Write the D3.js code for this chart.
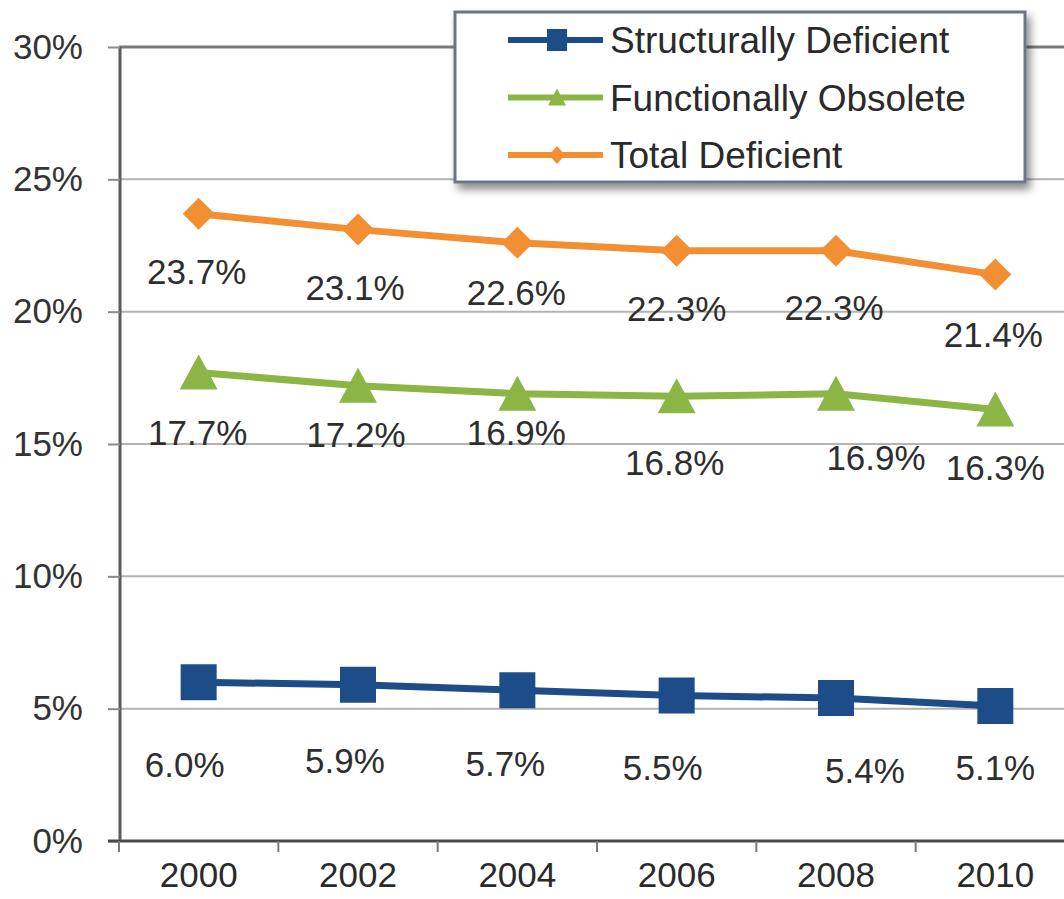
<!DOCTYPE html>
<html><head><meta charset="utf-8">
<script src="https://cdn.jsdelivr.net/npm/d3@7"></script>
<style>
html,body{margin:0;padding:0;background:#fff;overflow:hidden;}
svg{display:block;font-family:"Liberation Sans",Arial,sans-serif;}
</style>
</head><body>
<svg id="chart" width="1064" height="899"></svg>
<script>
// ---------- data ----------
const years = ["2000", "2002", "2004", "2006", "2008", "2010"];
const structurallyDeficient = [6.0, 5.9, 5.7, 5.5, 5.4, 5.1];
const functionallyObsolete = [17.7, 17.2, 16.9, 16.8, 16.9, 16.3];
const totalDeficient = [23.7, 23.1, 22.6, 22.3, 22.3, 21.4];
const yTickValues = [0, 5, 10, 15, 20, 25, 30];
const seriesNames = ["Structurally Deficient", "Functionally Obsolete", "Total Deficient"];

// ---------- layout (pixel offsets of the value labels from their points) ----------
const labelDx = [
  [-14, -13, -12, -14, 29, 0],
  [-1, -2, -1, -2, 40, 0],
  [-2, -3, -1, 0, -2, -2]
];
const labelDy = [
  [82, 76, 73, 72, 72, 61],
  [60, 49, 39, 66, 64, 58],
  [58, 58, 50, 58, 57, 60]
];
const colors = ["#1c4d89", "#8bb545", "#f28f33"];
const markerPaths = [
  "M-18,-18H18V18H-18Z",
  "M0,-18L19,17H-19Z",
  "M0,-16L16,0L0,16L-16,0Z"
];
const legendMarkerPaths = [
  "M-10,-11H10V11H-10Z",
  "M0,-9L9,8H-9Z",
  "M0,-9L8,0L0,9L-8,0Z"
];

const series = seriesNames.map((name, i) => ({
  name,
  values: [structurallyDeficient, functionallyObsolete, totalDeficient][i],
  color: colors[i],
  marker: markerPaths[i],
  legendMarker: legendMarkerPaths[i],
  dx: labelDx[i],
  dy: labelDy[i]
}));

const svg = d3.select("#chart");
const x = d3.scaleBand().domain(years).range([119, 1075]).padding(0);
const y = d3.scaleLinear().domain([0, 30]).range([841, 47]);
const cx = d => x(d) + x.bandwidth() / 2;

const defs = svg.append("defs");
const f = defs.append("filter").attr("id", "shadow").attr("x", "-10%").attr("y", "-10%").attr("width", "125%").attr("height", "140%");
f.append("feDropShadow").attr("dx", 4).attr("dy", 6).attr("stdDeviation", 4)
  .attr("flood-color", "#000").attr("flood-opacity", 0.45);

// gridlines
svg.append("g").selectAll("line").data(yTickValues.filter(v => v > 0)).join("line")
  .attr("x1", 119).attr("x2", 1064)
  .attr("y1", d => y(d)).attr("y2", d => y(d))
  .attr("stroke", d => d === 30 ? "#7a7a7a" : "#b3b3b3")
  .attr("stroke-width", d => d === 30 ? 3 : 2);

// y axis
const yAxis = svg.append("g").attr("transform", "translate(120,0)")
  .call(d3.axisLeft(y).tickValues(yTickValues).tickFormat(d => d + "%").tickSize(12).tickPadding(25));
yAxis.select(".domain").attr("stroke", "#5a5a5a").attr("stroke-width", 3).attr("d", `M0,${y(30)}V${y(0)}`);
yAxis.selectAll(".tick line").attr("stroke", "#8a8a8a").attr("stroke-width", 2);
yAxis.selectAll(".tick text").attr("font-size", 35).attr("fill", "#333")
  .attr("font-family", "'Liberation Sans',Arial,sans-serif");

// x axis
const xAxis = svg.append("g").attr("transform", `translate(0,${y(0)})`)
  .call(d3.axisBottom(x).tickSize(0).tickPadding(21));
xAxis.select(".domain").attr("stroke", "#4a4a4a").attr("stroke-width", 3).attr("d", "M108,0H1064");
xAxis.selectAll(".tick text").attr("font-size", 35).attr("fill", "#2a2a2a")
  .attr("font-family", "'Liberation Sans',Arial,sans-serif");
// category boundary ticks
xAxis.append("g").selectAll("line").data(years).join("line")
  .attr("x1", d => x(d)).attr("x2", d => x(d))
  .attr("y1", 0).attr("y2", 11)
  .attr("stroke", "#7a7a7a").attr("stroke-width", 2);

// lines + markers
const line = d3.line().x((d, i) => cx(years[i])).y(d => y(d));
const sg = svg.append("g").selectAll("g").data(series).join("g");
sg.append("path").attr("d", d => line(d.values)).attr("fill", "none")
  .attr("stroke", d => d.color).attr("stroke-width", 7).attr("stroke-linejoin", "round");
sg.each(function (s) {
  const g = d3.select(this);
  g.selectAll("path.mk").data(s.values).join("path").attr("class", "mk")
    .attr("d", s.marker)
    .attr("transform", (v, i) => `translate(${cx(years[i])},${y(v)})`)
    .attr("fill", s.color);
  g.selectAll("text").data(s.values).join("text")
    .attr("x", (v, i) => cx(years[i]) + s.dx[i])
    .attr("y", (v, i) => y(v) + s.dy[i])
    .attr("dy", "0.36em")
    .attr("text-anchor", "middle")
    .attr("font-size", 35).attr("fill", "#2e2e2e")
    .text(v => v.toFixed(1) + "%");
});

// legend
const lg = svg.append("g");
lg.append("rect").attr("x", 455).attr("y", 12).attr("width", 570).attr("height", 170)
  .attr("fill", "#fff").attr("stroke", "#6b7683").attr("stroke-width", 3).attr("filter", "url(#shadow)");
const rows = lg.selectAll("g").data(series).join("g")
  .attr("transform", (d, i) => `translate(0,${40 + i * 57.5})`);
rows.append("line").attr("x1", 508).attr("x2", 603).attr("y1", 0).attr("y2", 0)
  .attr("stroke", d => d.color).attr("stroke-width", 6);
rows.append("path").attr("d", d => d.legendMarker).attr("transform", "translate(557,0)")
  .attr("fill", d => d.color);
rows.append("text").attr("x", 610).attr("y", 0).attr("dy", "0.36em")
  .attr("font-size", 37).attr("fill", "#2a2a2a").text(d => d.name);
</script>
</body></html>
